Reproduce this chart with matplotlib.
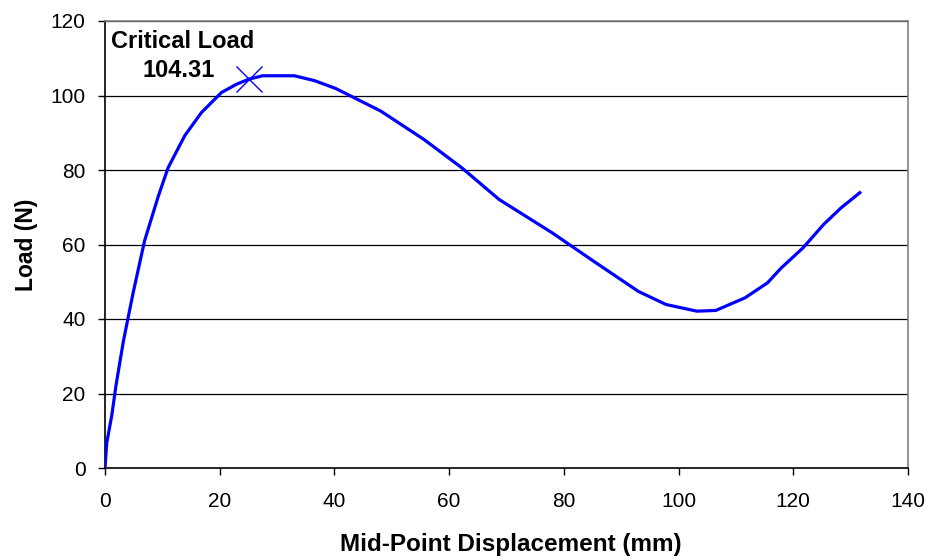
import matplotlib
matplotlib.use("Agg")
import matplotlib.pyplot as plt

plt.rcParams['font.family'] = ['Liberation Sans', 'DejaVu Sans']

displacement = [0, 0.3, 1.2, 1.9, 3.2, 4.9, 6.9, 9.3, 11.0, 13.9, 16.8, 20.3, 22.9,
                25.1, 27.5, 33.0, 36.5, 40.2, 43.7, 48.1, 55.6, 62.2, 68.7, 78.0,
                85.2, 93.0, 97.8, 103.2, 106.5, 111.6, 115.5, 117.9, 121.7, 125.3,
                128.3, 131.6]
load = [0, 6.7, 14.3, 22, 34, 47, 61, 73, 80.6, 89.2, 95.4, 100.8, 103.0,
        104.4, 105.3, 105.3, 104.0, 101.9, 99.2, 95.8, 88.2, 80.6, 72.1, 63.1,
        55.5, 47.4, 43.9, 42.1, 42.3, 45.7, 49.7, 53.7, 59.1, 65.4,
        69.8, 73.9]

critical_x = 25.1
critical_load = 104.31
critical_label = "Critical Load"

xticks = [0, 20, 40, 60, 80, 100, 120, 140]
yticks = [0, 20, 40, 60, 80, 100, 120]

fig = plt.figure(figsize=(9.35, 5.6), dpi=100)
ax = fig.add_axes([105/935, 1-468/560, (908-105)/935, (468-21)/560])

for yv in yticks[1:]:
    ax.axhline(yv, color='black', lw=0.9, zorder=1)

ax.plot(displacement, load, color='#0000FF', lw=2.3, zorder=3, solid_joinstyle='round')
ax.plot([critical_x], [critical_load], marker='x', color='#0000FF', ms=19, mew=1.0,
        ls='none', zorder=4)

ax.text(26.0, 114.5, critical_label, fontsize=17, fontweight='bold', ha='right', va='center')
ax.text(19.2, 106.6, f"{critical_load:.2f}", fontsize=17, fontweight='bold', ha='right', va='center')

ax.set_xlim(0, 140)
ax.set_ylim(0, 120)
ax.set_xticks(xticks)
ax.set_yticks(yticks)
ax.tick_params(direction='out', length=5, width=1, labelsize=15, color='black')
ax.tick_params(axis='x', pad=12)
ax.tick_params(axis='y', pad=9)

ax.spines['left'].set_color('black')
ax.spines['bottom'].set_color('black')
ax.spines['top'].set_color('#808080')
ax.spines['right'].set_color('#808080')
for s in ax.spines.values():
    s.set_linewidth(1.2)

ax.set_xlabel("Mid-Point Displacement (mm)", fontsize=17.5, fontweight='bold', va='center')
ax.set_ylabel("Load (N)", fontsize=16.5, fontweight='bold', va='center')
ax.xaxis.set_label_coords((511 - 105) / 803, (468 - 544) / 447)
ax.yaxis.set_label_coords((26 - 105) / 803, (468 - 245) / 447)

fig.savefig("out.png", dpi=100)
